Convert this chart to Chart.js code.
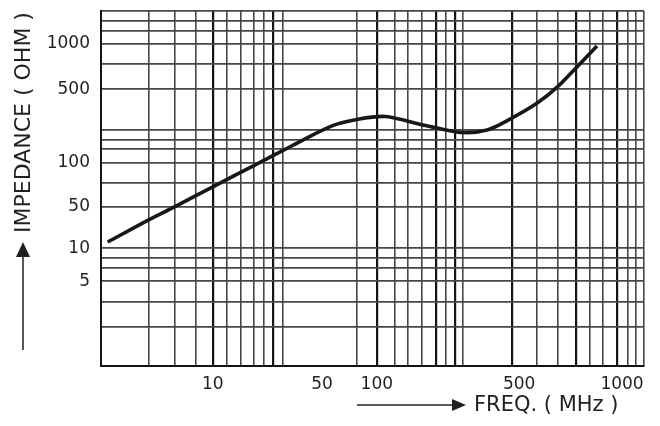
<!DOCTYPE html>
<html>
<head>
<meta charset="utf-8">
<script src="https://cdn.jsdelivr.net/npm/chart.js@4/dist/chart.umd.min.js"></script>
<style>
  html, body { margin: 0; padding: 0; background: #fff; }
  canvas { display: block; }
</style>
</head>
<body>
<canvas id="impedanceChart" width="660" height="426"></canvas>
<script>
// impedance curve
const freqMHz = [2.2, 4.0, 5.8, 10, 18.3, 32.6, 56.7, 77.7, 110, 168, 197, 265, 348, 451, 565, 646, 738, 845];
const impedanceOhm = [12.7, 30.5, 50.3, 68.7, 96, 147, 224, 258, 275, 229, 214, 194, 205, 260, 369, 515, 703, 970];

// tick labels
const freqLabels = [10, 50, 100, 500, 1000];
const impLabels = [5, 10, 50, 100, 500, 1000];

// where the printed grid lines sit (values), heavier ones listed separately
const freqGrid = [2, 4, 5.8, 7.8, 10, 12.3, 15.1, 18.3, 21.2, 24.3, 28.1, 77.7, 100, 122.6, 142, 166.5, 195, 218.6, 242, 265, 462, 565, 650, 734, 806, 880, 967, 1058, 1141, 1230];
const freqHeavy = [10, 24.3, 100, 195, 242, 462, 734, 967];
const impGrid = [1, 2.1, 3.4, 5, 6.6, 8.1, 10, 50, 73, 100, 136, 165, 205, 500, 735, 1000, 1220, 1420, 1660];

const ink = '#231f20';

// the printed chart is not a true log grid, so each axis is calibrated
// piecewise in log space: [value, fraction of axis length]
const axisCalib = {
  x: [[2, 0], [10, 0.206], [50, 0.407], [100, 0.508], [500, 0.770], [1000, 0.9595], [1230, 1]],
  y: [[1, 0], [5, 0.239], [10, 0.332], [50, 0.448], [100, 0.572], [500, 0.780], [1000, 0.907], [1660, 1]]
};
const axisTicks = {
  x: { grid: freqGrid, labels: freqLabels, heavy: freqHeavy },
  y: { grid: impGrid, labels: impLabels, heavy: [] }
};

class CalibratedLogScale extends Chart.Scale {
  static id = 'calibratedLog';
  static defaults = {};

  determineDataLimits() {
    const c = axisCalib[this.axis];
    this.min = c[0][0];
    this.max = c[c.length - 1][0];
  }
  buildTicks() {
    const t = axisTicks[this.axis];
    const vals = [...new Set([...t.grid, ...t.labels])].sort((a, b) => a - b);
    return vals.map(v => ({ value: v }));
  }
  getLabelForValue(v) {
    return String(v);
  }
  toDecimal(v) {
    const c = axisCalib[this.axis];
    let i = 1;
    while (i < c.length - 1 && v > c[i][0]) i++;
    const [v0, d0] = c[i - 1], [v1, d1] = c[i];
    const l0 = Math.log10(v0), l1 = Math.log10(v1);
    return d0 + (Math.log10(v) - l0) / (l1 - l0) * (d1 - d0);
  }
  getPixelForValue(v) {
    return this.getPixelForDecimal(this.toDecimal(v));
  }
  getValueForPixel(p) {
    const c = axisCalib[this.axis];
    const d = this.getDecimalForPixel(p);
    let i = 1;
    while (i < c.length - 1 && d > c[i][1]) i++;
    const [v0, d0] = c[i - 1], [v1, d1] = c[i];
    const l0 = Math.log10(v0), l1 = Math.log10(v1);
    return Math.pow(10, l0 + (d - d0) / (d1 - d0) * (l1 - l0));
  }
}
Chart.register(CalibratedLogScale);

Chart.defaults.font.family = '"DejaVu Sans", sans-serif';
Chart.defaults.font.size = 17;
Chart.defaults.color = ink;

function gridColor(axis) {
  return c => {
    const t = axisTicks[axis];
    if (!c.tick || !t.grid.includes(c.tick.value)) return 'rgba(0,0,0,0)';
    return t.heavy.includes(c.tick.value) ? '#161314' : '#4a4647';
  };
}
function gridWidth(axis) {
  return c => {
    const t = axisTicks[axis];
    if (!c.tick) return 1;
    if (axis === 'y') return 1.8;
    return t.heavy.includes(c.tick.value) ? 2.2 : 1.6;
  };
}

// axis titles with their arrows, as printed on the sheet
const axisTitles = {
  id: 'axisTitles',
  afterDraw(chart) {
    const ctx = chart.ctx;
    ctx.save();
    ctx.fillStyle = ink;
    ctx.strokeStyle = ink;
    ctx.lineWidth = 1.5;

    ctx.save();
    ctx.translate(24, 233);
    ctx.rotate(-Math.PI / 2);
    ctx.font = '22px "DejaVu Sans"';
    ctx.textBaseline = 'middle';
    ctx.textAlign = 'left';
    ctx.fillText('IMPEDANCE ( OHM )', 0, 0);
    ctx.restore();

    ctx.beginPath();
    ctx.moveTo(23, 350);
    ctx.lineTo(23, 256);
    ctx.stroke();
    ctx.beginPath();
    ctx.moveTo(23, 242);
    ctx.lineTo(16, 257);
    ctx.lineTo(30, 257);
    ctx.closePath();
    ctx.fill();

    ctx.beginPath();
    ctx.moveTo(357, 405);
    ctx.lineTo(453, 405);
    ctx.stroke();
    ctx.beginPath();
    ctx.moveTo(466, 405);
    ctx.lineTo(452, 399);
    ctx.lineTo(452, 411);
    ctx.closePath();
    ctx.fill();

    ctx.font = '21px "DejaVu Sans"';
    ctx.textBaseline = 'middle';
    ctx.textAlign = 'left';
    ctx.fillText('FREQ. ( MHz )', 474, 406);
    ctx.restore();
  }
};

new Chart(document.getElementById('impedanceChart'), {
  type: 'line',
  data: {
    datasets: [{
      label: 'Impedance',
      data: freqMHz.map((f, i) => ({ x: f, y: impedanceOhm[i] })),
      borderColor: '#1a1718',
      borderWidth: 3.6,
      pointRadius: 0,
      tension: 0.3,
      fill: false
    }]
  },
  options: {
    responsive: false,
    animation: false,
    events: [],
    layout: { padding: { left: 0, top: 11, right: 16, bottom: 0 } },
    plugins: {
      legend: { display: false },
      tooltip: { enabled: false }
    },
    scales: {
      x: {
        type: 'calibratedLog',
        position: 'bottom',
        afterFit: s => { s.height = 60; s.paddingLeft = 0; s.paddingRight = 0; },
        grid: { color: gridColor('x'), lineWidth: gridWidth('x'), drawTicks: false },
        border: { display: true, color: '#161314', width: 2 },
        ticks: {
          autoSkip: false,
          maxRotation: 0,
          padding: 8,
          callback: v => freqLabels.includes(v) ? String(v) : ''
        }
      },
      y: {
        type: 'calibratedLog',
        position: 'left',
        afterFit: s => { s.width = 101; s.paddingTop = 0; s.paddingBottom = 0; },
        grid: { color: gridColor('y'), lineWidth: gridWidth('y'), drawTicks: false },
        border: { display: true, color: '#161314', width: 2 },
        ticks: {
          autoSkip: false,
          padding: 11,
          callback: v => impLabels.includes(v) ? String(v) : ''
        }
      }
    }
  },
  plugins: [axisTitles]
});
</script>
</body>
</html>
